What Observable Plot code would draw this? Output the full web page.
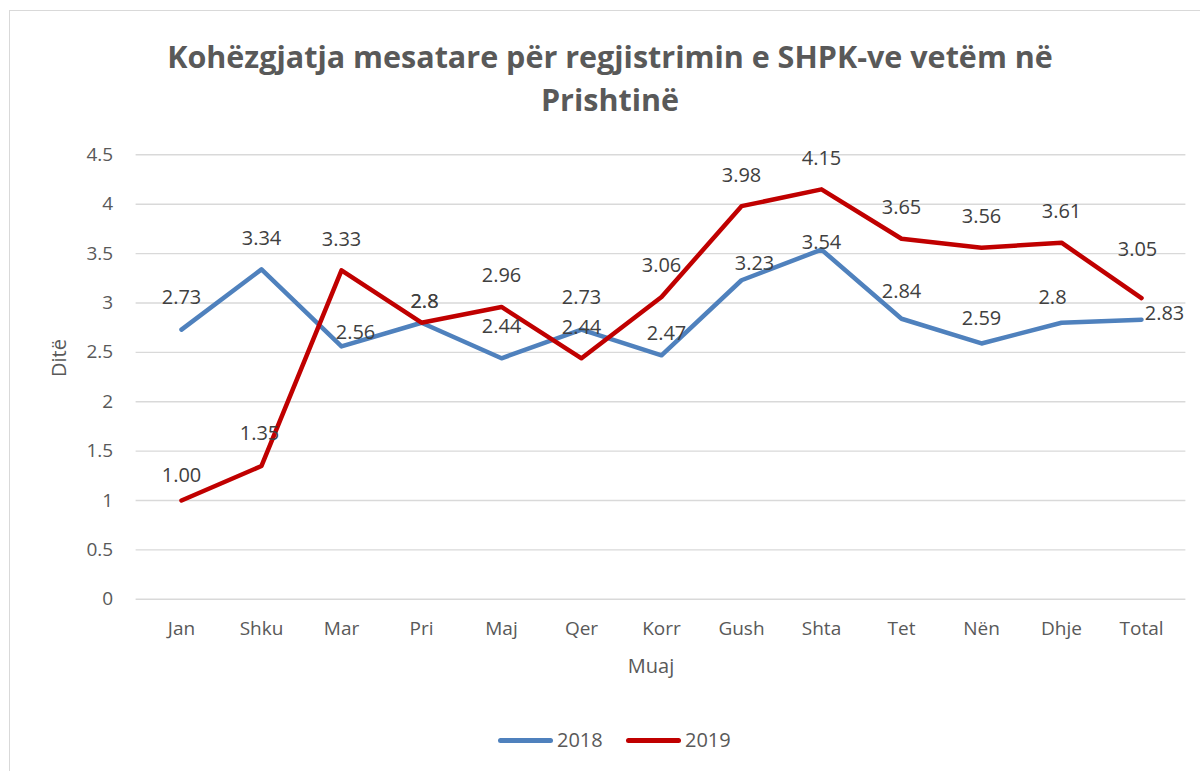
<!DOCTYPE html>
<html>
<head>
<meta charset="utf-8">
<script src="https://cdn.jsdelivr.net/npm/d3@7"></script>
<script src="https://cdn.jsdelivr.net/npm/@observablehq/plot@0.6"></script>
<style>
  html, body { margin: 0; padding: 0; background: #fff; width: 1200px; height: 771px; overflow: hidden; position: relative; font-family: "Open Sans", sans-serif; }
  #frame { position: absolute; left: 9px; top: 10px; width: 1300px; height: 900px; border: 1.5px solid #d9d9d9; box-sizing: border-box; }
  #title { position: absolute; left: 10px; width: 1200px; top: 35px; text-align: center; font-family: "Open Sans", sans-serif; font-weight: bold; font-size: 30.5px; line-height: 43px; color: #595959; }
  #chart { position: absolute; left: 0; top: 130px; }
  .sw { position: absolute; height: 5px; width: 55px; border-radius: 3px; top: 738px; }
  .lt { position: absolute; top: 727px; font-size: 20px; color: #595959; line-height: 26px; }
</style>
</head>
<body>
<div id="frame"></div>
<div id="title">Kohëzgjatja mesatare për regjistrimin e SHPK-ve vetëm në<br>Prishtinë</div>
<div id="chart"></div>
<div id="legend"></div>
<script>
const months = ["Jan","Shku","Mar","Pri","Maj","Qer","Korr","Gush","Shta","Tet","Nën","Dhje","Total"];
const values2018 = [2.73,3.34,2.56,2.8,2.44,2.73,2.47,3.23,3.54,2.84,2.59,2.8,2.83];
const values2019 = [1.00,1.35,3.33,2.8,2.96,2.44,3.06,3.98,4.15,3.65,3.56,3.61,3.05];
const labels2018 = ["2.73","3.34","2.56","2.8","2.44","2.73","2.47","3.23","3.54","2.84","2.59","2.8","2.83"];
const labels2019 = ["1.00","1.35","3.33","2.8","2.96","2.44","3.06","3.98","4.15","3.65","3.56","3.61","3.05"];
const yTicks = [0,0.5,1,1.5,2,2.5,3,3.5,4,4.5];
const seriesNames = ["2018","2019"];
const seriesColors = ["#4f81bd","#c00000"];

const data = [];
months.forEach((m,i) => {
  data.push({month:m, value:values2018[i], label:labels2018[i], series:"2018"});
  data.push({month:m, value:values2019[i], label:labels2019[i], series:"2019"});
});

// label placement (style): [dx, dy]
const offsets = {
  "2018|Jan":[0,-32], "2018|Shku":[0,-31], "2018|Mar":[14,-14], "2018|Pri":[3,-21],
  "2018|Maj":[0,-32], "2018|Qer":[0,-32], "2018|Korr":[5,-22], "2018|Gush":[13,-17],
  "2018|Shta":[0,-7], "2018|Tet":[0,-27], "2018|Nën":[0,-25], "2018|Dhje":[-9,-25],
  "2018|Total":[23,-6],
  "2019|Jan":[0,-25], "2019|Shku":[-2,-32], "2019|Pri":[3,-21], "2019|Total":[-4,-48]
};

const labelMarks = data.map(d => {
  const o = offsets[d.series + "|" + d.month] || [0,-31];
  return Plot.text([d], {x:"month", y:"value", text:"label", dx:o[0], dy:o[1], fontSize:20, fill:"#404040"});
});

const chart = Plot.plot({
  width: 1200,
  height: 560,
  marginTop: 24.3,
  marginBottom: 91.2,
  marginLeft: 135.6,
  marginRight: 14.6,
  x: {type:"point", domain: months, padding: 0.5},
  y: {domain: [0, 4.5]},
  color: {domain: seriesNames, range: seriesColors},
  style: {fontFamily: "Open Sans", fontSize: "19px", color: "#595959", background: "transparent", overflow: "visible"},
  marks: [
    Plot.ruleY(yTicks, {stroke:"#d9d9d9", strokeWidth:1.4}),
    Plot.axisY({ticks: yTicks, tickSize: 0, tickPadding: 23, tickFormat: d => String(d), label: null, fontSize: 19, fill:"#595959"}),
    Plot.axisX({tickSize: 0, tickPadding: 22, label: null, fontSize: 19, fill:"#595959"}),
    Plot.line(data, {x:"month", y:"value", z:"series", stroke:"series", strokeWidth:4.5, strokeLinejoin:"round", strokeLinecap:"round"}),
    ...labelMarks,
    Plot.text(["Muaj"], {frameAnchor:"bottom", dy:74, dx:-10, fontSize:20, fill:"#595959"}),
    Plot.text(["Ditë"], {frameAnchor:"left", dx:-77, rotate:-90, fontSize:20, fill:"#595959"})
  ]
});
document.getElementById("chart").appendChild(chart);

const legend = document.getElementById("legend");
const swLeft = [498, 626], txtLeft = [557, 685];
seriesNames.forEach((s,i) => {
  const sw = document.createElement("div");
  sw.className = "sw"; sw.style.left = swLeft[i] + "px"; sw.style.background = seriesColors[i];
  legend.appendChild(sw);
  const t = document.createElement("div");
  t.className = "lt"; t.style.left = txtLeft[i] + "px"; t.textContent = s;
  legend.appendChild(t);
});
</script>
</body>
</html>
